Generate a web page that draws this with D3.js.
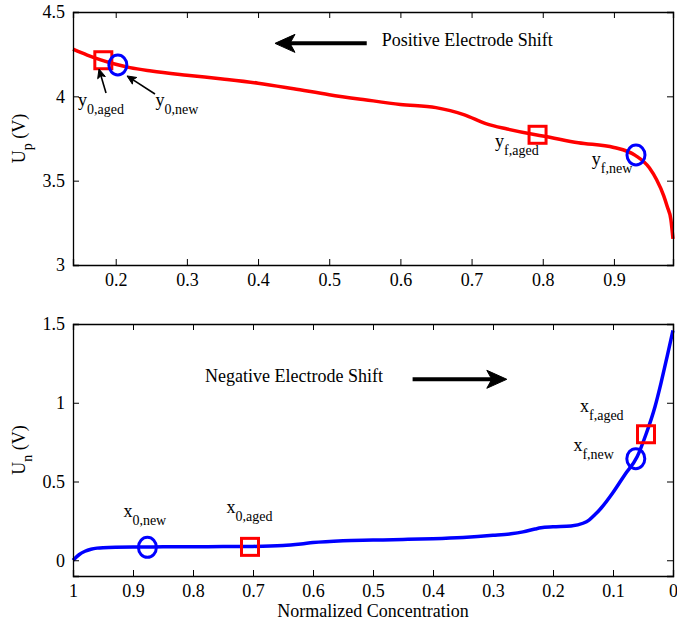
<!DOCTYPE html>
<html>
<head>
<meta charset="utf-8">
<script src="https://cdn.jsdelivr.net/npm/d3@7"></script>
<style>
  body { margin: 0; background: #fff; }
  svg { display: block; }
  svg text { font-family: "Liberation Serif", "Times New Roman", serif; }
</style>
</head>
<body>
<svg id="chart" width="677" height="626"></svg>
<script>
// ---------- DATA ----------
// Positive electrode (top panel)
const posX = [0.14, 0.16, 0.18, 0.2, 0.22, 0.25, 0.3, 0.35, 0.4, 0.45, 0.5, 0.55, 0.6, 0.65, 0.67, 0.69, 0.72, 0.75, 0.79, 0.8, 0.85, 0.9, 0.93, 0.95, 0.96, 0.97, 0.975, 0.98, 0.983];
const posU = [4.28, 4.245, 4.215, 4.19, 4.17, 4.15, 4.125, 4.103, 4.078, 4.045, 4.01, 3.98, 3.952, 3.933, 3.915, 3.89, 3.838, 3.806, 3.772, 3.765, 3.725, 3.697, 3.65, 3.575, 3.505, 3.41, 3.345, 3.27, 3.155];
const posXTicks = [0.2, 0.3, 0.4, 0.5, 0.6, 0.7, 0.8, 0.9];
const posYTicks = [3, 3.5, 4, 4.5];
const posNewX = [0.203, 0.931], posNewY = [4.186, 3.652];
const posAgedX = [0.1826, 0.7927], posAgedY = [4.214, 3.772];

// Negative electrode (bottom panel)
const negX = [1, 0.99, 0.98, 0.97, 0.96, 0.95, 0.9, 0.85, 0.8, 0.75, 0.7, 0.65, 0.62, 0.6, 0.55, 0.5, 0.45, 0.4, 0.35, 0.3, 0.27, 0.25, 0.23, 0.22, 0.2, 0.17, 0.15, 0.14, 0.13, 0.12, 0.1, 0.08, 0.06, 0.045, 0.03, 0.02, 0.01, 0];
const negU = [0.0, 0.035, 0.057, 0.07, 0.077, 0.08, 0.084, 0.085, 0.086, 0.087, 0.088, 0.093, 0.103, 0.112, 0.124, 0.128, 0.132, 0.137, 0.145, 0.158, 0.168, 0.18, 0.198, 0.206, 0.212, 0.218, 0.235, 0.255, 0.29, 0.33, 0.43, 0.545, 0.655, 0.8, 0.975, 1.125, 1.29, 1.46];
const negXTicks = [1, 0.9, 0.8, 0.7, 0.6, 0.5, 0.4, 0.3, 0.2, 0.1, 0];
const negYTicks = [0, 0.5, 1, 1.5];
const negNewX = [0.876, 0.062], negNewY = [0.082, 0.645];
const negAgedX = [0.705, 0.045], negAgedY = [0.085, 0.80];

// Annotation labels: [main, subscript, x, y] in data units
const posLabels = [["y", "0,aged", 0.147, 3.943], ["y", "0,new", 0.256, 3.943], ["y", "f,aged", 0.733, 3.70], ["y", "f,new", 0.869, 3.593]];
const negLabels = [["x", "0,new", 0.916, 0.2765], ["x", "0,aged", 0.744, 0.298], ["x", "f,aged", 0.155, 0.943], ["x", "f,new", 0.166, 0.695]];
// small pointer arrows (top): [x0,y0,x1,y1] tail -> head
const posPointers = [[0.1864, 4.02, 0.1765, 4.162], [0.2552, 4.014, 0.2159, 4.121]];
// shift arrows: tail -> head
const posShift = [0.5527, 4.314, 0.4238, 4.314];
const negShift = [0.434, 1.149, 0.277, 1.149];
const posShiftText = ["Positive Electrode Shift", 0.5738, 4.297];
const negShiftText = ["Negative Electrode Shift", 0.78, 1.134];

// ---------- DRAW ----------
const svg = d3.select("#chart");
const FONT = 18, SUB = 14;
const SERIF = "'Liberation Serif', 'Times New Roman', serif";
const L = 73, R = 673;

function panel(cfg) {
  const x = d3.scaleLinear().domain(cfg.xDomain).range([L, R]);
  const y = d3.scaleLinear().domain(cfg.yDomain).range([cfg.bottom, cfg.top]);
  const g = svg.append("g");

  // curve
  const line = d3.line().x(d => x(d[0])).y(d => y(d[1])).curve(d3.curveMonotoneX);
  const pts = cfg.cx.map((v, i) => [v, cfg.cy[i]]).sort((a, b) => x(a[0]) - x(b[0]));
  g.append("path").attr("d", line(pts)).attr("fill", "none")
    .attr("stroke", cfg.color).attr("stroke-width", 3.5).attr("stroke-linejoin", "round");

  // axes with inward ticks on all 4 sides
  const tk = 6;
  g.append("g").attr("transform", `translate(0,${cfg.bottom})`)
    .call(d3.axisBottom(x).tickValues(cfg.xTicks).tickSize(-tk).tickPadding(8).tickFormat(d => d3.format("")(d)));
  g.append("g").attr("transform", `translate(0,${cfg.top})`)
    .call(d3.axisTop(x).tickValues(cfg.xTicks).tickSize(-tk).tickFormat(""));
  g.append("g").attr("transform", `translate(${L},0)`)
    .call(d3.axisLeft(y).tickValues(cfg.yTicks).tickSize(-tk).tickPadding(8).tickFormat(d => d3.format("")(d)));
  g.append("g").attr("transform", `translate(${R},0)`)
    .call(d3.axisRight(y).tickValues(cfg.yTicks).tickSize(-tk).tickFormat(""));
  g.selectAll(".domain").attr("stroke", "#000").attr("stroke-width", 1.3);
  g.selectAll(".tick line").attr("stroke", "#000").attr("stroke-width", 1);
  g.selectAll(".tick text").attr("font-size", FONT).style("font-family", SERIF).attr("fill", "#000");

  // markers: aged = red squares, new = blue ellipses
  const S = 17;
  cfg.agedX.forEach((v, i) => {
    g.append("rect").attr("x", x(v) - S / 2).attr("y", y(cfg.agedY[i]) - S / 2)
      .attr("width", S).attr("height", S).attr("fill", "none").attr("stroke", "#ff0000").attr("stroke-width", 3);
  });
  cfg.newX.forEach((v, i) => {
    g.append("ellipse").attr("cx", x(v)).attr("cy", y(cfg.newY[i])).attr("rx", 9).attr("ry", 10)
      .attr("fill", "none").attr("stroke", "#0000ff").attr("stroke-width", 3);
  });

  // labels with subscripts
  cfg.labels.forEach(l => {
    const t = g.append("text").attr("x", x(l[2])).attr("y", y(l[3])).attr("font-size", FONT)
      .style("font-family", SERIF).attr("fill", "#000");
    t.append("tspan").text(l[0]);
    t.append("tspan").attr("dy", 8).attr("font-size", SUB).text(l[1]);
  });

  // y axis label
  const yl = g.append("text").attr("transform", `translate(25,${(cfg.top + cfg.bottom) / 2}) rotate(-90)`)
    .attr("text-anchor", "middle").attr("font-size", FONT).style("font-family", SERIF).attr("fill", "#000");
  yl.append("tspan").text("U");
  yl.append("tspan").attr("dy", 7).attr("font-size", SUB).text(cfg.ySub);
  yl.append("tspan").attr("dy", -7).text(" (V)");

  // shift arrow
  bigArrow(g, x(cfg.shift[0]), y(cfg.shift[1]), x(cfg.shift[2]), y(cfg.shift[3]), 20, 9, 5, 4);
  g.append("text").attr("x", x(cfg.shiftText[1])).attr("y", y(cfg.shiftText[2]))
    .attr("font-size", FONT).style("font-family", SERIF).attr("fill", "#000").text(cfg.shiftText[0]);

  // pointer arrows
  (cfg.pointers || []).forEach(p => bigArrow(g, x(p[0]), y(p[1]), x(p[2]), y(p[3]), 9, 4, 2, 1.6));
  return { x, y };
}

function bigArrow(g, x0, y0, x1, y1, len, hw, notch, sw) {
  const dx = x1 - x0, dy = y1 - y0, d = Math.hypot(dx, dy);
  const ux = dx / d, uy = dy / d, px = -uy, py = ux;
  const bx = x1 - ux * len, by = y1 - uy * len;
  g.append("line").attr("x1", x0).attr("y1", y0).attr("x2", x1 - ux * len * 0.6).attr("y2", y1 - uy * len * 0.6)
    .attr("stroke", "#000").attr("stroke-width", sw);
  const pts = [[x1, y1], [bx + px * hw, by + py * hw], [bx + ux * notch, by + uy * notch], [bx - px * hw, by - py * hw]];
  g.append("path").attr("d", "M" + pts.map(p => p.join(",")).join("L") + "Z").attr("fill", "#000")
    .attr("stroke", "#000").attr("stroke-width", 1).attr("stroke-linejoin", "round");
}

panel({
  xDomain: [0.14, 0.983], yDomain: [3, 4.5], top: 12, bottom: 265,
  cx: posX, cy: posU, color: "#ff0000", xTicks: posXTicks, yTicks: posYTicks,
  newX: posNewX, newY: posNewY, agedX: posAgedX, agedY: posAgedY,
  labels: posLabels, ySub: "p", shift: posShift, shiftText: posShiftText, pointers: posPointers
});
panel({
  xDomain: [1, 0], yDomain: [-0.1, 1.5], top: 324, bottom: 576,
  cx: negX, cy: negU, color: "#0000ff", xTicks: negXTicks, yTicks: negYTicks,
  newX: negNewX, newY: negNewY, agedX: negAgedX, agedY: negAgedY,
  labels: negLabels, ySub: "n", shift: negShift, shiftText: negShiftText
});

svg.append("text").attr("x", (L + R) / 2).attr("y", 617).attr("text-anchor", "middle")
  .attr("font-size", FONT).style("font-family", SERIF).attr("fill", "#000").text("Normalized Concentration");
</script>
</body>
</html>
